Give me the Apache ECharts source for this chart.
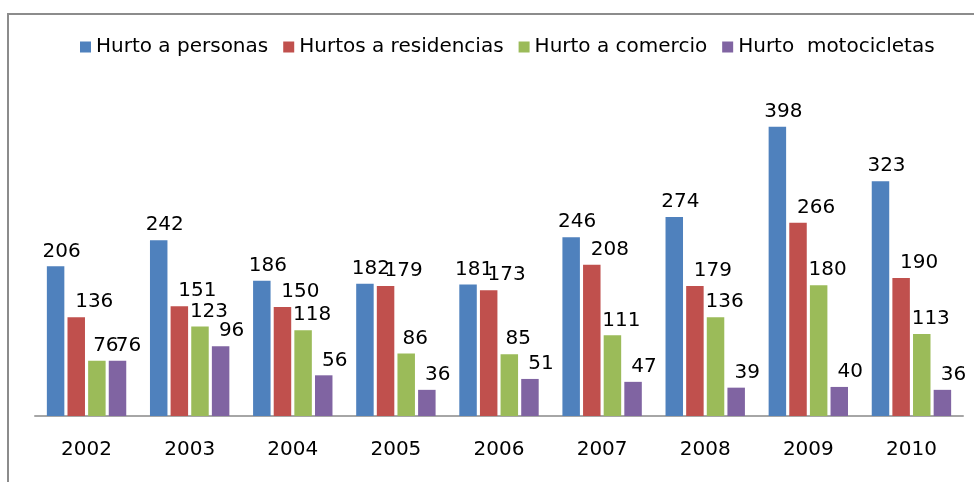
<!DOCTYPE html>
<html>
<head>
<meta charset="utf-8">
<script src="https://cdn.jsdelivr.net/npm/echarts@6/dist/echarts.min.js"></script>
<style>
  html, body { margin: 0; padding: 0; background: #fff; }
  #hurtosChart { width: 974px; height: 482px; }
</style>
</head>
<body>
<div id="hurtosChart"></div>
<script>
// años
var years = ['2002', '2003', '2004', '2005', '2006', '2007', '2008', '2009', '2010'];
var seriesNames = ['Hurto a personas', 'Hurtos a residencias', 'Hurto a comercio', 'Hurto  motocicletas'];
// valores
var hurtoPersonas = [206, 242, 186, 182, 181, 246, 274, 398, 323];
var hurtoResidencias = [136, 151, 150, 179, 173, 208, 179, 266, 190];
var hurtoComercio = [76, 123, 118, 86, 85, 111, 136, 180, 113];
var hurtoMotos = [76, 96, 56, 36, 51, 47, 39, 40, 36];

var colores = ['#4F81BD', '#C0504D', '#9BBB59', '#8064A2'];
var labelShift = [6, 18, 9, 11];
var fuente = '"DejaVu Sans", Arial, sans-serif';

var chart = echarts.init(document.getElementById('hurtosChart'));

function makeSerie(i, data) {
  return {
    name: seriesNames[i],
    type: 'bar',
    data: data,
    barGap: '18%',
    barCategoryGap: '23%',
    itemStyle: { color: colores[i] },
    label: {
      show: true,
      position: 'top',
      distance: 5,
      offset: [labelShift[i], 0],
      color: '#000',
      fontSize: 20,
      fontFamily: fuente
    }
  };
}

chart.setOption({
  animation: false,
  backgroundColor: '#fff',
  color: colores,
  graphic: [
    {
      type: 'rect',
      shape: { x: 8, y: 14, width: 1000, height: 500 },
      style: { fill: 'none', stroke: '#8c8c8c', lineWidth: 2 },
      silent: true
    }
  ],
  legend: {
    data: seriesNames,
    left: 75,
    top: 32,
    itemWidth: 11,
    itemHeight: 11,
    itemGap: 15,
    icon: 'rect',
    textStyle: { fontSize: 20, fontFamily: fuente, color: '#000' }
  },
  grid: { left: 35, right: 11, top: 89, bottom: 66 },
  xAxis: {
    type: 'category',
    data: years,
    axisTick: { show: false },
    axisLine: { lineStyle: { color: '#a6a6a6', width: 2 } },
    axisLabel: { fontSize: 20, fontFamily: fuente, color: '#000', margin: 24 }
  },
  yAxis: {
    type: 'value',
    min: 0,
    max: 450,
    show: false,
    splitLine: { show: false }
  },
  series: [
    makeSerie(0, hurtoPersonas),
    makeSerie(1, hurtoResidencias),
    makeSerie(2, hurtoComercio),
    makeSerie(3, hurtoMotos)
  ]
});
</script>
</body>
</html>
